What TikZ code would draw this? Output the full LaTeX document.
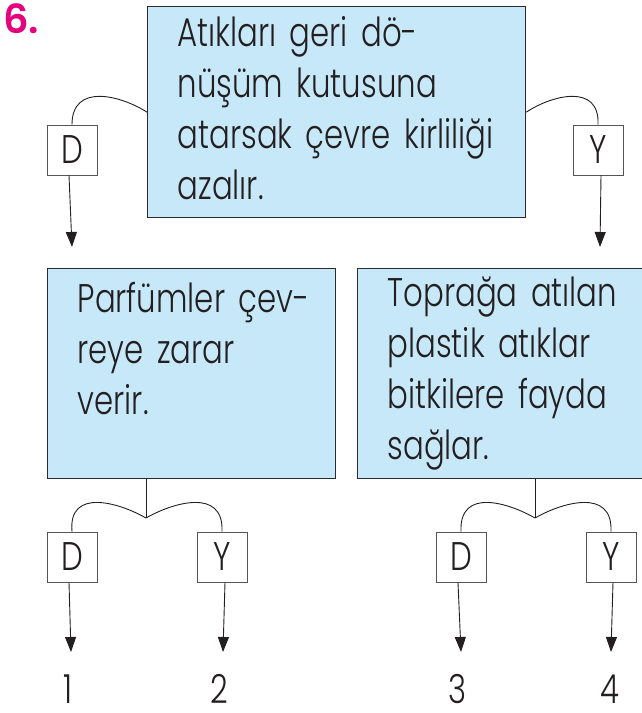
\documentclass[tikz,border=0pt]{standalone}
\usepackage{fontspec}
\setmainfont{Poppins}[UprightFont=* Light, BoldFont=* SemiBold,
  FakeStretch=0.77, WordSpace=2.3]
\newfontfamily\numara{Poppins SemiBold}
\usetikzlibrary{arrows.meta}
\definecolor{kutumavi}{HTML}{C6E8F8}
\definecolor{cizgi}{HTML}{2B2B2B}
\definecolor{murekkep}{HTML}{231F20}
\definecolor{pembe}{HTML}{E5007D}
\newcommand{\elyazi}{\fontsize{40}{51}\selectfont}
\hyphenpenalty=10000
\exhyphenpenalty=10000

\begin{document}
\begin{tikzpicture}[x=1pt, y=-1pt,
    kutu/.style={draw=cizgi, line width=1.3pt, fill=kutumavi, anchor=north west,
      align=left, inner xsep=30pt, inner ysep=0pt, font=\elyazi, text=murekkep},
    harf/.style={draw=cizgi!80, line width=0.9pt, minimum size=50pt, inner sep=0pt,
      font=\elyazi, text=murekkep},
    sayi/.style={font=\elyazi, text=murekkep, inner sep=0pt},
    ok/.style={draw=murekkep, line width=0.9pt, -{Triangle[length=15pt,width=11pt]}},
    kol/.style={draw=murekkep, line width=0.9pt}]
  \useasboundingbox (0,0) rectangle (642,713);

  % soru numarasi
  \node[text=pembe, font=\numara\fontsize{40}{40}\selectfont, anchor=base west,
    inner sep=0pt] (no) at (3,33) {6.};

  % ust kutu ve ilk dallar
  \node[kutu, text width=318pt, minimum height=211pt, text depth=161pt] (ust) at (147,6)
    {Atıkları~geri~dö-\\ nüşüm~kutusuna\\ atarsak~çevre~kirliliği\\ azalır.};
  \node[harf] (d0) at (72,150) {D};
  \node[harf] (y0) at (598,150) {Y};
  \draw[kol] (ust.west) .. controls (120,95) and (72,83) .. (d0.north);
  \draw[kol] (ust.east) .. controls (552,95) and (600,83) .. (y0.north);
  \coordinate (d0ok) at (72,247);
  \coordinate (y0ok) at (600,247);
  \draw[ok] ([xshift=-3pt]d0.south) -- (d0ok);
  \draw[ok] ([xshift=3pt]y0.south) -- (y0ok);

  % alt kutular
  \node[kutu, text width=228pt, minimum height=210pt] (sol) at (47,268)
    {Parfümler~çev-\\ reye~zarar\\ verir.\\ \mbox{}};
  \node[kutu, text width=227pt, minimum height=210pt] (sag) at (357,268)
    {Toprağa~atılan\\ plastik~atıklar\\ bitkilere~fayda\\ sağlar.};

  % sol kutunun dallari
  \coordinate (solc) at (146,518);
  \node[harf] (d1) at (72,557) {D};
  \node[harf] (y1) at (222,557) {Y};
  \draw[kol] (sol.south -| solc) -- (solc);
  \draw[kol] (solc) .. controls (120,503) and (68,487) .. (d1.north);
  \draw[kol] (solc) .. controls (172,503) and (224,487) .. (y1.north);
  \coordinate (d1ok) at (71,652);
  \coordinate (y1ok) at (223,652);
  \draw[ok] ([xshift=-3pt]d1.south) -- (d1ok);
  \draw[ok] ([xshift=3pt]y1.south) -- (y1ok);
  \node[sayi] (s1) at (68,689) {1};
  \node[sayi] (s2) at (219,689) {2};

  % sag kutunun dallari
  \coordinate (sagc) at (535,518);
  \node[harf] (d2) at (461,557) {D};
  \node[harf] (y2) at (611,557) {Y};
  \draw[kol] (sag.south -| sagc) -- (sagc);
  \draw[kol] (sagc) .. controls (509,503) and (459,487) .. (d2.north);
  \draw[kol] (sagc) .. controls (561,503) and (613,487) .. (y2.north);
  \coordinate (d2ok) at (461,652);
  \coordinate (y2ok) at (611,652);
  \draw[ok] ([xshift=-3pt]d2.south) -- (d2ok);
  \draw[ok] ([xshift=2pt]y2.south) -- (y2ok);
  \node[sayi] (s3) at (458,689) {3};
  \node[sayi] (s4) at (610,689) {4};
\end{tikzpicture}
\end{document}
